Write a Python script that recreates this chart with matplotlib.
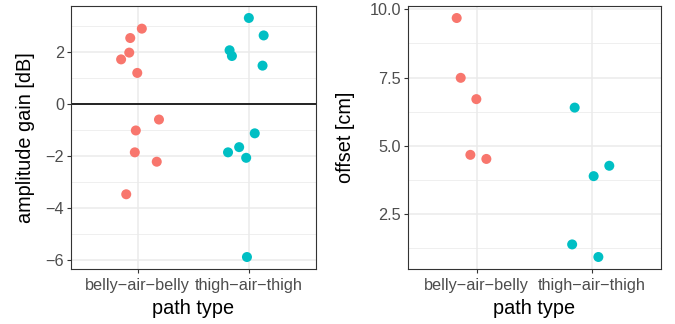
import numpy as np
import matplotlib
matplotlib.use("Agg")
import matplotlib.pyplot as plt
from matplotlib.ticker import MultipleLocator

plt.rcParams['font.family'] = ['Liberation Sans', 'DejaVu Sans']

categories = ["belly\u2212air\u2212belly", "thigh\u2212air\u2212thigh"]
colors = ["#F8766D", "#00BFC4"]

# amplitude gain [dB] per path type, with horizontal jitter
gain_belly = [2.90, 2.54, 1.98, 1.72, 1.20, -0.59, -1.01, -1.85, -2.21, -3.46]
gain_belly_jit = [0.036, -0.068, -0.077, -0.15, -0.005, 0.19, -0.018, -0.027, 0.17, -0.104]
gain_thigh = [3.31, 2.64, 2.07, 1.85, 1.48, -1.12, -1.65, -1.85, -2.06, -5.87]
gain_thigh_jit = [-0.003, 0.13, -0.176, -0.155, 0.12, 0.05, -0.09, -0.19, -0.027, -0.02]

# offset [cm] per path type
off_belly = [9.68, 7.49, 6.71, 4.67, 4.52]
off_belly_jit = [-0.174, -0.139, -0.003, -0.055, 0.084]
off_thigh = [6.40, 4.27, 3.89, 1.39, 0.93]
off_thigh_jit = [-0.148, 0.153, 0.017, -0.17, 0.058]


def style(ax, major, minor):
    ax.set_facecolor("white")
    ax.set_xlim(0.4, 2.6)
    ax.set_xticks([1, 2])
    ax.set_xticklabels(categories)
    ax.yaxis.set_major_locator(MultipleLocator(major))
    ax.yaxis.set_minor_locator(MultipleLocator(minor))
    ax.grid(True, which="major", color="#EBEBEB", lw=1.1, zorder=0)
    ax.grid(True, which="minor", axis="y", color="#EBEBEB", lw=0.55, zorder=0)
    ax.set_axisbelow(True)
    ax.tick_params(which="major", length=3, width=0.8, color="#333333",
                   labelcolor="#4D4D4D", labelsize=11.7, pad=2)
    ax.tick_params(axis="x", which="major", pad=3.5)
    ax.tick_params(which="minor", length=0)
    for s in ax.spines.values():
        s.set_color("#333333")
        s.set_linewidth(0.8)
    ax.set_xlabel("path type", fontsize=14.3)
    ax.xaxis.set_label_coords(0.5, -0.115)


def draw(ax, belly, belly_jit, thigh, thigh_jit):
    for i, (vals, jit) in enumerate([(belly, belly_jit), (thigh, thigh_jit)]):
        x = np.full(len(vals), i + 1.0) + np.array(jit)
        ax.scatter(x, vals, s=52, color=colors[i], edgecolors="none", zorder=3)


fig = plt.figure(figsize=(6.75, 3.24), dpi=100)
ax1 = fig.add_axes([71 / 675, 1 - 269 / 324, 245 / 675, 263 / 324])
ax2 = fig.add_axes([407.7 / 675, 1 - 269 / 324, 253 / 675, 263 / 324])

ax1.axhline(0, color="black", lw=1.2, zorder=2)
draw(ax1, gain_belly, gain_belly_jit, gain_thigh, gain_thigh_jit)
style(ax1, 2, 1)
ax1.set_ylim(-6.33, 3.77)
ax1.set_ylabel("amplitude gain [dB]", fontsize=14.3)
ax1.yaxis.set_label_coords(-0.145, 0.5)

draw(ax2, off_belly, off_belly_jit, off_thigh, off_thigh_jit)
style(ax2, 2.5, 1.25)
ax2.set_ylim(0.49, 10.12)
ax2.yaxis.set_major_formatter(matplotlib.ticker.FormatStrFormatter("%.1f"))
ax2.set_ylabel("offset [cm]", fontsize=14.3)
ax2.yaxis.set_label_coords(-0.21, 0.5)

fig.savefig("out.png", dpi=100)
